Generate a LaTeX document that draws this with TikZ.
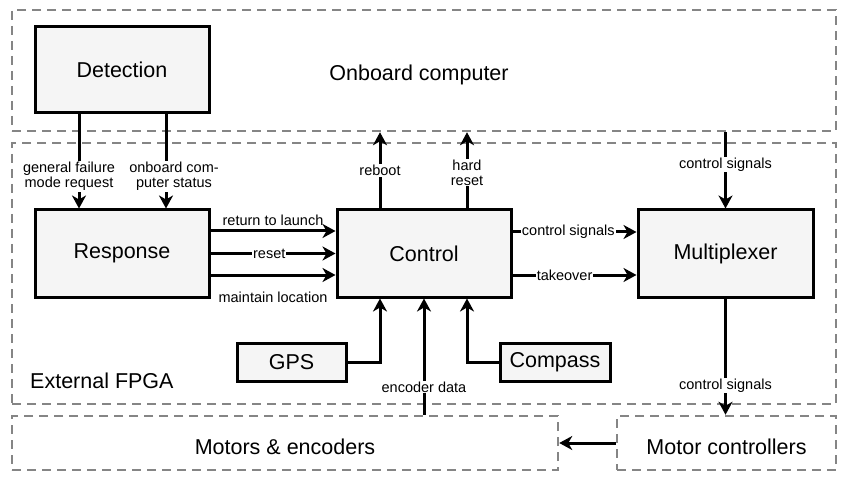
\documentclass[tikz,border=0pt]{standalone}
\usepackage{fontspec}
\setmainfont{Liberation Sans}
\usetikzlibrary{arrows.meta}
\definecolor{boxfill}{HTML}{F5F5F5}
\definecolor{dashgray}{HTML}{858585}
\tikzset{
  big/.style={font=\fontsize{21.5}{24}\selectfont},
  blk/.style={draw=black, line width=3pt, fill=boxfill, big, inner sep=0pt},
  area/.style={draw=dashgray, line width=2.5pt, dash pattern=on 9pt off 6pt, inner sep=0pt},
  arr/.style={line width=3pt, -{Stealth[length=13pt,width=14pt,inset=4pt]}},
  lbl/.style={fill=white, inner sep=1pt, font=\fontsize{14.5}{16}\selectfont, align=center},
  lbls/.style={inner sep=1pt, font=\fontsize{14.5}{16}\selectfont, align=center},
}
\begin{document}
\begin{tikzpicture}[x=1pt,y=-1pt]
\useasboundingbox (0,0) rectangle (845,478);
% areas
\node[area, minimum width=824pt, minimum height=121pt] (obc) at (424,70.5) {};
\node[area, minimum width=824pt, minimum height=261pt] (fpga) at (424,273.5) {};
\node[area, minimum width=546pt, minimum height=54pt] (me) at (285,443) {};
\node[area, minimum width=219pt, minimum height=54pt] (mc) at (726.5,443) {};
\node[big, inner sep=0pt] (obct) at (419,75) {Onboard computer};
\node[big, inner sep=0pt] (met) at (285,447) {Motors \& encoders};
\node[big, inner sep=0pt] (mct) at (726.5,447) {Motor controllers};
\node[big, anchor=west, inner sep=0pt] (fpgal) at (30,381) {External FPGA};
% blocks
\node[blk, minimum width=174pt, minimum height=86pt] (det) at (122,70) {Detection};
\node[blk, minimum width=174pt, minimum height=87pt] (res) at (122,253.5) {Response};
\node[blk, minimum width=174pt, minimum height=87pt] (ctl) at (424,253.5) {Control};
\node[blk, minimum width=175pt, minimum height=87pt] (mux) at (725.5,253.5) {Multiplexer};
\node[blk, minimum width=109pt, minimum height=38pt] (gps) at (291.5,362) {GPS};
\node[blk, minimum width=110pt, minimum height=38pt] (cmp) at (555,362) {Compass};
% detection -> response
\draw[arr] ([xshift=-43pt]det.south) -- node[lbl, pos=0.66, xshift=-10pt] (l1) {general failure\\[-1pt]mode request} ([xshift=-43pt]res.north);
\draw[arr] ([xshift=44pt]det.south) -- node[lbl, pos=0.66, xshift=8pt] (l2) {onboard com-\\[-1pt]puter status} ([xshift=44pt]res.north);
% control -> onboard
\draw[arr] ([xshift=-44pt]ctl.north) -- node[lbl, pos=0.5] (l3) {reboot} ([xshift=-44pt]ctl.north |- obc.south);
\draw[arr] ([xshift=43pt]ctl.north) -- node[lbl, pos=0.47] (l4) {hard\\[-1pt]reset} ([xshift=43pt]ctl.north |- obc.south);
% response -> control
\draw[arr] ([yshift=22.5pt]res.east) -- node[lbls, above=3pt, pos=0.5] (l5) {return to launch} ([yshift=22.5pt]ctl.west);
\draw[arr] (res.east) -- node[lbl, pos=0.47] (l6) {reset} (ctl.west);
\draw[arr] ([yshift=-21.5pt]res.east) -- node[lbls, below=14pt, pos=0.5] (l7) {maintain location} ([yshift=-21.5pt]ctl.west);
% control -> mux
\draw[arr] ([yshift=21.5pt]ctl.east) -- node[lbl, pos=0.45] (l8) {control signals} ([yshift=21.5pt]mux.west);
\draw[arr] ([yshift=-21.5pt]ctl.east) -- node[lbl, pos=0.42] (l9) {takeover} ([yshift=-21.5pt]mux.west);
% onboard -> mux
\draw[arr] (mux.north |- obc.south) -- node[lbl, pos=0.42] (l10) {control signals} (mux.north);
% mux -> motor controllers
\draw[arr] (mux.south) -- node[lbl, pos=0.75] (l11) {control signals} (mux.south |- mc.north);
% gps, compass, encoders -> control
\draw[arr] (gps.east) -| ([xshift=-44pt]ctl.south);
\draw[arr] (cmp.west) -| ([xshift=43pt]ctl.south);
\draw[arr] (ctl.south |- me.north) -- node[lbl, pos=0.24] (l12) {encoder data} (ctl.south);
% motor controllers -> motors
\draw[arr] (mc.west) -- (me.east);
\end{tikzpicture}
\end{document}
